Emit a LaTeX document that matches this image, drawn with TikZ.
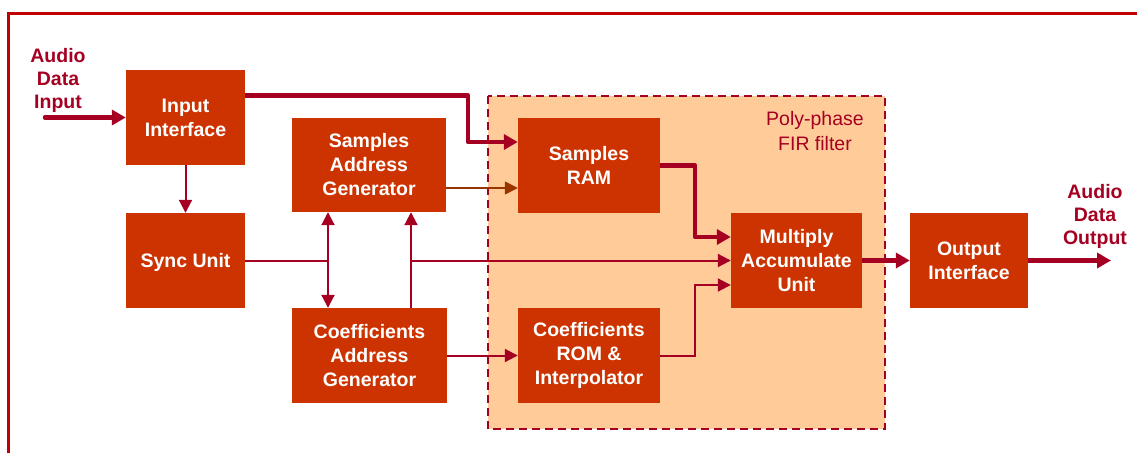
\documentclass[tikz,border=0pt]{standalone}
\usepackage{fontspec}
\setmainfont{Liberation Sans}
\usetikzlibrary{arrows.meta}
\definecolor{boxfill}{HTML}{CC3300}
\definecolor{dred}{HTML}{A50021}
\definecolor{brown}{HTML}{993300}
\definecolor{frame}{HTML}{C00000}
\definecolor{region}{HTML}{FFCC99}
\tikzset{
  blk/.style={fill=boxfill, draw=none, text=white, font=\bfseries\fontsize{19.5}{24}\selectfont, align=center, inner sep=0pt},
  lbl/.style={text=dred, font=\bfseries\fontsize{19.5}{23}\selectfont, align=center, inner sep=0pt},
  thn/.style={draw=dred, line width=2pt, -{Triangle[length=13pt,width=13pt]}},
  thk/.style={draw=dred, line width=4.5pt, -{Triangle[length=14pt,width=15pt]}},
}
\begin{document}
\begin{tikzpicture}[x=1pt,y=-1pt]
\useasboundingbox (0,0) rectangle (1137,453);
% frame
\draw[frame, line width=3pt] (8,453) -- (8,13) -- (1137,13);
% filter region
\draw[fill=region, draw=dred, line width=2pt, dash pattern=on 8pt off 5pt] (488,96) rectangle (885,429);
\node[text=dred, font=\fontsize{19.5}{25}\selectfont, align=center, inner sep=0pt] (poly) at (815,131) {Poly-phase\\FIR filter};
% blocks
\node[blk, minimum width=119pt, minimum height=95pt] (in) at (185.5,117.5) {Input\\Interface};
\node[blk, minimum width=119pt, minimum height=95pt, text depth=0pt] (sync) at (185.5,260.5) {Sync Unit};
\node[blk, minimum width=154pt, minimum height=94pt] (sag) at (369,165) {Samples\\Address\\Generator};
\node[blk, minimum width=155pt, minimum height=95pt] (cag) at (369.5,355.5) {Coefficients\\Address\\Generator};
\node[blk, minimum width=142pt, minimum height=95pt] (ram) at (589,165.5) {Samples\\RAM};
\node[blk, minimum width=142pt, minimum height=95pt] (rom) at (589,355.5) {Coefficients\\ROM \&\\Interpolator};
\node[blk, minimum width=131pt, minimum height=95pt] (mac) at (796.5,260.5) {Multiply\\Accumulate\\Unit};
\node[blk, minimum width=118pt, minimum height=95pt] (out) at (969,260.5) {Output\\Interface};
% labels
\node[lbl] (lin) at (58,80) {Audio\\Data\\Input};
\node[lbl] (lout) at (1095,216) {Audio\\Data\\Output};
% helper coordinates
\coordinate (ain) at (45,117.5);
\coordinate (aout) at (1111,260.5);
\coordinate (j1) at (468,142);
\coordinate (v1) at (328,0);
\coordinate (v2) at (411,0);
\coordinate (v3) at (695,0);
\coordinate (m1) at ([yshift=23.5pt]mac.west);
\coordinate (m2) at ([yshift=-24.5pt]mac.west);
% connectors
\draw[thk, line cap=round] (ain) -- (in.west);
\draw[thk, line join=round] ([yshift=22pt]in.east) -| (j1) -- (j1 -| ram.west);
\draw[thn] (in.south) -- (sync.north);
\draw[thn, -] (sync.east) -- (sync.east -| v1);
\draw[thn, {Triangle[length=13pt,width=13pt]}-{Triangle[length=13pt,width=13pt]}] (v1 |- sag.south) -- (v1 |- cag.north);
\draw[thn] (v2 |- cag.north) -- (v2 |- sag.south);
\draw[thn] (v2 |- mac.west) -- (mac.west);
\draw[thn, draw=brown, -{Triangle[length=13pt,width=13pt,fill=brown]}, line width=1.6pt] ([yshift=-23pt]sag.east) -- ([yshift=-23pt]sag.east -| ram.west);
\draw[thk, line join=round] (ram.east) -| (v3 |- m1) -- (m1);
\draw[thn] (rom.east) -| (v3 |- m2) -- (m2);
\draw[thn] (cag.east) -- (rom.west);
\draw[thk] (mac.east) -- (out.west);
\draw[thk] (out.east) -- (aout);
\end{tikzpicture}
\end{document}
